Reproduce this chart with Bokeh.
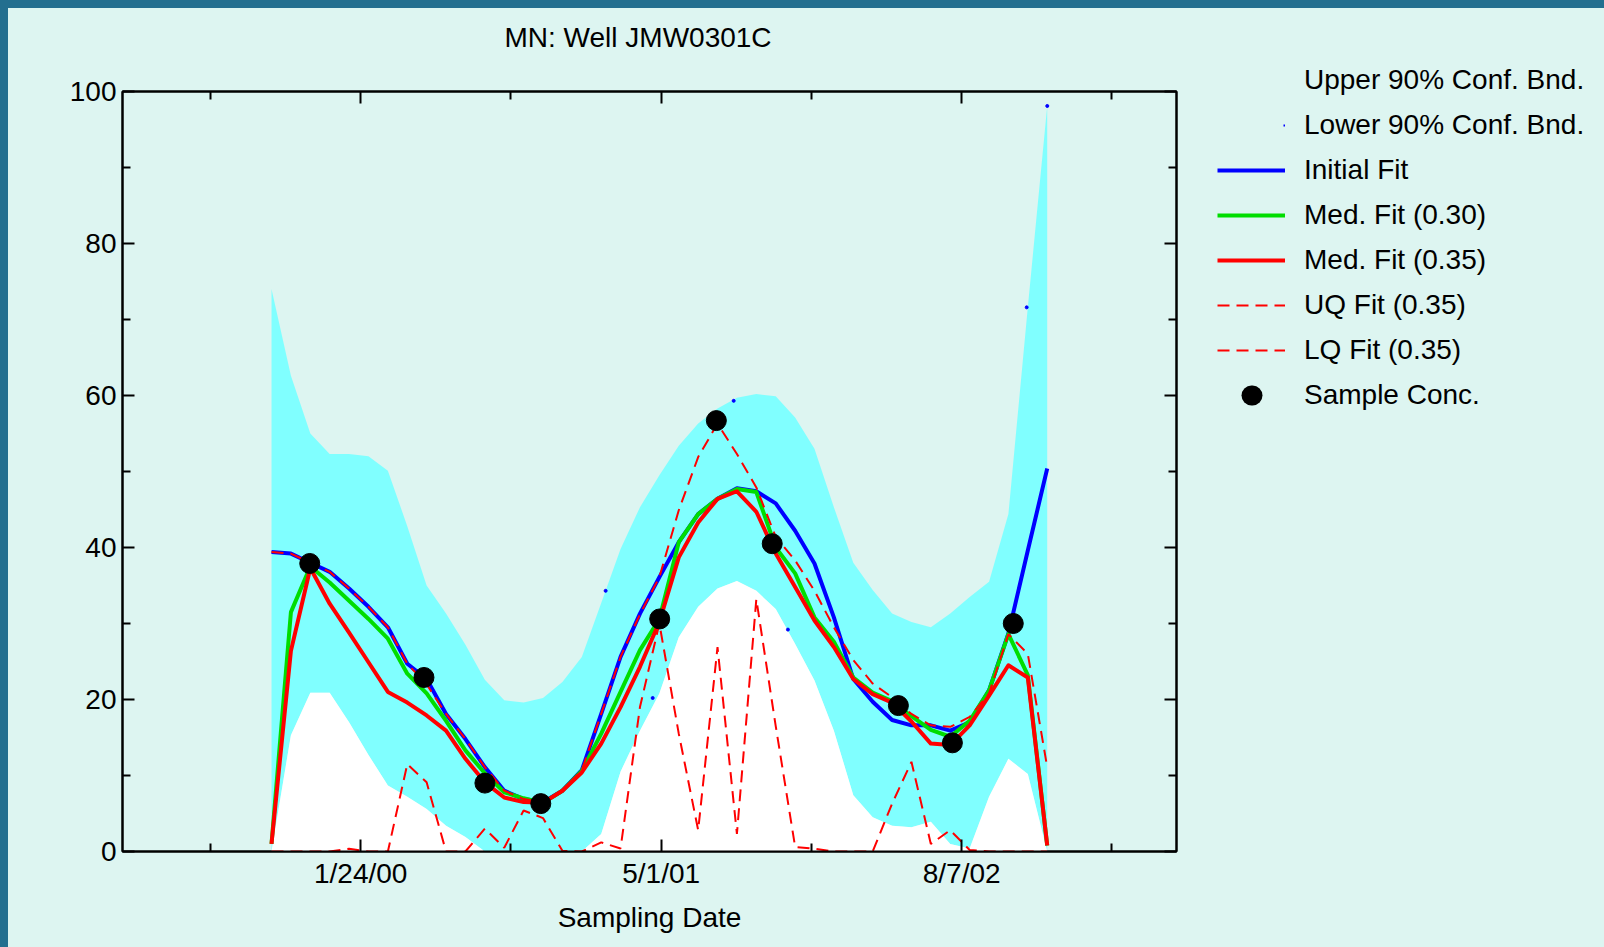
from bokeh.plotting import figure
from bokeh.models import (ColumnDataSource, FixedTicker, LinearAxis, Legend,
                          LegendItem, Range1d)
from bokeh.embed import file_html
from bokeh.resources import INLINE

# ---------------- data ----------------
# evaluation grid, days relative to 1/24/00
grid_days = [-137.4, -107.5, -77.6, -47.8, -17.9, 12.0, 41.9, 71.8, 101.6, 131.5,
             161.4, 191.3, 221.2, 251.0, 280.9, 310.8, 340.7, 370.6, 400.4, 430.3,
             460.2, 490.1, 520.0, 549.8, 579.7, 609.6, 639.5, 669.4, 699.2, 729.1,
             759.0, 788.9, 818.8, 848.6, 878.5, 908.4, 938.3, 968.2, 998.0, 1027.9,
             1057.8]
upper_90 = [74.0, 62.6, 55.0, 52.3, 52.3, 52.0, 50.1, 42.8, 35.0, 31.3,
            27.2, 22.6, 19.9, 19.6, 20.2, 22.3, 25.6, 32.7, 39.8, 45.3,
            49.5, 53.4, 56.3, 58.3, 59.7, 60.2, 59.9, 57.1, 53.0, 45.3,
            38.0, 34.4, 31.3, 30.2, 29.5, 31.3, 33.5, 35.5, 44.4, 71.6, 98.1]
lower_90 = [0.0, 15.3, 20.9, 20.9, 17.0, 12.7, 8.7, 7.2, 5.6, 3.4,
            1.9, 0.0, 0.0, 0.0, 0.0, 0.0, 0.0, 2.3, 10.5, 15.9,
            20.8, 28.2, 32.2, 34.6, 35.6, 34.3, 31.9, 27.3, 22.5, 15.9,
            7.4, 4.5, 3.4, 3.2, 3.9, 1.0, 0.4, 7.2, 12.2, 10.2, 0.0]
initial_fit = [39.4, 39.2, 38.0, 36.8, 34.6, 32.2, 29.5, 24.7, 22.7, 18.1,
               14.8, 11.1, 8.0, 6.9, 6.5, 8.0, 10.7, 18.1, 25.6, 31.3,
               36.1, 40.7, 44.4, 46.4, 47.8, 47.4, 45.8, 42.2, 37.9, 30.8,
               22.7, 19.7, 17.3, 16.6, 16.6, 15.9, 17.0, 21.2, 28.7, 39.6, 50.4]
med_fit_030 = [1.0, 31.5, 37.5, 35.4, 33.0, 30.6, 28.0, 23.4, 20.8, 17.2,
               13.3, 10.3, 7.8, 7.0, 6.4, 8.0, 10.6, 15.5, 21.0, 26.5,
               30.6, 40.7, 44.4, 46.4, 47.7, 47.3, 40.0, 36.6, 30.8, 27.6,
               22.9, 20.9, 19.8, 17.8, 16.0, 15.1, 17.2, 21.2, 28.6, 23.2, 0.8]
med_fit_035 = [1.0, 26.4, 37.3, 32.6, 28.8, 24.9, 21.0, 19.6, 17.9, 15.9,
               12.2, 9.1, 7.1, 6.5, 6.4, 8.0, 10.4, 14.2, 19.0, 24.3,
               30.2, 38.7, 43.3, 46.4, 47.4, 44.7, 39.2, 34.8, 30.4, 26.9,
               22.7, 20.7, 19.6, 17.1, 14.2, 14.0, 16.6, 20.5, 24.5, 22.9, 0.8]
uq_fit_035 = [39.4, 39.2, 38.0, 36.8, 34.6, 32.2, 29.5, 24.7, 22.0, 18.1,
              14.8, 11.1, 8.0, 6.9, 6.5, 8.0, 10.7, 18.1, 25.6, 31.2,
              36.1, 44.9, 51.9, 56.3, 52.3, 47.9, 41.4, 38.3, 34.3, 29.5,
              25.2, 22.1, 20.3, 18.1, 16.6, 16.4, 17.7, 20.8, 28.6, 26.0, 11.1]
lq_fit_035 = [0.0, 0.0, 0.0, 0.0, 0.35, 0.0, 0.0, 11.5, 9.1, 0.0,
              0.0, 3.0, 0.5, 5.4, 4.4, 0.1, 0.0, 1.2, 0.4, 19.0,
              30.0, 15.5, 2.8, 26.9, 2.3, 33.2, 16.5, 0.6, 0.35, 0.0,
              0.0, 0.0, 6.3, 11.8, 1.0, 2.8, 0.2, 0.0, 0.0, 0.0, 0.0]
sample_days = [-78.5, 97.5, 191.4, 277.5, 460.7, 548.0, 634.1, 828.5, 911.7, 1005.5]
sample_conc = [37.9, 22.9, 9.0, 6.3, 30.6, 56.7, 40.5, 19.2, 14.3, 30.0]
band_dot_days = [377.4, 449.9, 574.7, 658.3, 1026.2, 1057.9]
band_dot_vals = [34.3, 20.2, 59.3, 29.2, 71.6, 98.1]

x_major_ticks = [0, 463, 926]
x_minor_ticks = [-231.5, 231.5, 694.5, 1157.5]
x_tick_labels = ["1/24/00", "5/1/01", "8/7/02"]
y_major_ticks = [0, 20, 40, 60, 80, 100]
y_minor_ticks = [10, 30, 50, 70, 90]

# ---------------- style ----------------
MINT = "#DDF5F1"
TEAL = "#236F8F"
CYAN = "#80FFFF"
BLUE = "#0000FF"
GREEN = "#00DD00"
RED = "#FF0000"
FONT = "Liberation Sans"
FS = "28px"
NAN = float("nan")

src = ColumnDataSource(dict(x=grid_days, upper=upper_90, lower=lower_90,
                            init=initial_fit, m30=med_fit_030, m35=med_fit_035,
                            uq=uq_fit_035, lq=lq_fit_035))

p = figure(width=1188, height=931, output_backend="svg", toolbar_location=None,
           x_range=Range1d(-367, 1257), y_range=Range1d(0, 100),
           x_axis_location=None, y_axis_location=None,
           min_border_left=114, min_border_right=20, min_border_top=83,
           min_border_bottom=88,
           background_fill_color=MINT, border_fill_color=MINT,
           outline_line_color="black", outline_line_width=2,
           styles={"box-shadow": "-2px -2px 0 0 #000000"})
p.grid.visible = False

# title
p.title.text = "MN: Well JMW0301C"
p.title.text_font = FONT
p.title.text_font_size = FS
p.title.text_font_style = "normal"
p.title.text_color = "black"
p.title.align = "left"
p.title.offset = 382
p.title.standoff = 0
p.title.vertical_align = "bottom"

xt = FixedTicker(ticks=x_major_ticks, minor_ticks=x_minor_ticks)
yt = FixedTicker(ticks=y_major_ticks, minor_ticks=y_minor_ticks)


def style_axis(ax, show_labels):
    ax.axis_line_width = 2
    ax.axis_line_color = "black"
    ax.major_tick_in = 12
    ax.major_tick_out = 0
    ax.minor_tick_in = 8
    ax.minor_tick_out = 0
    ax.major_tick_line_width = 2
    ax.minor_tick_line_width = 2
    ax.major_label_text_font = FONT
    ax.major_label_text_color = "black"
    ax.major_label_text_font_size = FS if show_labels else "1px"
    ax.major_label_standoff = 6 if show_labels else 0
    ax.axis_label_text_font = FONT
    ax.axis_label_text_font_size = FS
    ax.axis_label_text_font_style = "normal"
    ax.axis_label_text_color = "black"


def spacer_axis(ticks, gap):
    # invisible axis that only reserves room between the frame and the title
    ax = LinearAxis(ticker=FixedTicker(ticks=ticks[:1]),
                    major_label_overrides={t: "" for t in ticks[:1]})
    ax.axis_line_color = None
    ax.major_tick_line_color = None
    ax.minor_tick_line_color = None
    ax.major_tick_in = 0
    ax.major_tick_out = gap
    ax.minor_tick_out = 0
    ax.major_label_text_font_size = "1px"
    ax.major_label_standoff = 0
    return ax


bottom = LinearAxis(ticker=xt, axis_label="Sampling Date",
                    major_label_overrides=dict(zip(x_major_ticks, x_tick_labels)))
style_axis(bottom, True)
bottom.axis_label_standoff = 10
top = LinearAxis(ticker=xt, major_label_overrides={t: "" for t in x_major_ticks})
style_axis(top, False)
left = LinearAxis(ticker=yt)
style_axis(left, True)
right = LinearAxis(ticker=yt, major_label_overrides={t: "" for t in y_major_ticks})
style_axis(right, False)
p.add_layout(bottom, "below")
p.add_layout(top, "above")
p.add_layout(spacer_axis(x_major_ticks, 39), "above")
p.add_layout(left, "left")
p.add_layout(right, "right")

# confidence band
p.varea(x="x", y1="lower", y2="upper", source=src, fill_color=CYAN)
p.varea(x="x", y1=0, y2="lower", source=src, fill_color="white")

line_styles = {
    "init": dict(line_color=BLUE, line_width=4, line_join="round"),
    "m30": dict(line_color=GREEN, line_width=4, line_join="round"),
    "m35": dict(line_color=RED, line_width=4, line_join="round"),
    "uq": dict(line_color=RED, line_width=2, line_dash="12 7"),
    "lq": dict(line_color=RED, line_width=2, line_dash="12 7"),
}
for col, st in line_styles.items():
    p.line("x", col, source=src, **st)
p.scatter(sample_days, sample_conc, size=20, color="black")
p.scatter(band_dot_days, band_dot_vals, size=3, color=BLUE)

# ---------------- legend canvas (separate root, placed to the right) ----------------
lf = figure(width=400, height=931, output_backend="svg", toolbar_location=None,
            x_range=Range1d(0, 1), y_range=Range1d(0, 1),
            x_axis_location=None, y_axis_location=None,
            min_border_left=0, min_border_right=0, min_border_top=0,
            min_border_bottom=0,
            outline_line_color=None, background_fill_color=MINT,
            border_fill_color=MINT,
            styles={"box-shadow": "0 -2px 0 0 #000000"})
lf.grid.visible = False

# legend glyph proxies (no data drawn)
g_upper = lf.line(x=[NAN], y=[NAN], line_alpha=0)
g_lower = lf.line(x=[NAN], y=[NAN], line_color=BLUE, line_width=2,
                  line_dash="2 100", line_dash_offset=36)
g_lines = {col: lf.line(x=[NAN], y=[NAN], **st) for col, st in line_styles.items()}
g_samp = lf.line(x=[NAN], y=[NAN], line_color="black", line_width=20,
                 line_cap="round", line_dash="1 100", line_dash_offset=67)

legend = Legend(items=[
    LegendItem(label="Upper 90% Conf. Bnd.", renderers=[g_upper]),
    LegendItem(label="Lower 90% Conf. Bnd.", renderers=[g_lower]),
    LegendItem(label="Initial Fit", renderers=[g_lines["init"]]),
    LegendItem(label="Med. Fit (0.30)", renderers=[g_lines["m30"]]),
    LegendItem(label="Med. Fit (0.35)", renderers=[g_lines["m35"]]),
    LegendItem(label="UQ Fit (0.35)", renderers=[g_lines["uq"]]),
    LegendItem(label="LQ Fit (0.35)", renderers=[g_lines["lq"]]),
    LegendItem(label="Sample Conc.", renderers=[g_samp]),
], location=(21, 528))
legend.background_fill_alpha = 0
legend.border_line_color = None
legend.padding = 0
legend.margin = 0
legend.spacing = 13
legend.glyph_width = 68
legend.glyph_height = 32
legend.label_height = 32
legend.label_standoff = 19
legend.label_text_font = FONT
legend.label_text_font_size = FS
legend.label_text_color = "black"
lf.add_layout(legend)

html = file_html([p, lf], INLINE, title="MN: Well JMW0301C")
css = ("<style>html{background:%s;overflow:hidden;}"
       "body{margin:0;border-left:8px solid %s;border-top:8px solid %s;"
       "min-height:939px;background:%s;display:flex;flex-direction:row;"
       "align-items:flex-start;}</style>" % (MINT, TEAL, TEAL, MINT))
html = html.replace("</head>", css + "</head>", 1)
open("out.html", "w").write(html)
